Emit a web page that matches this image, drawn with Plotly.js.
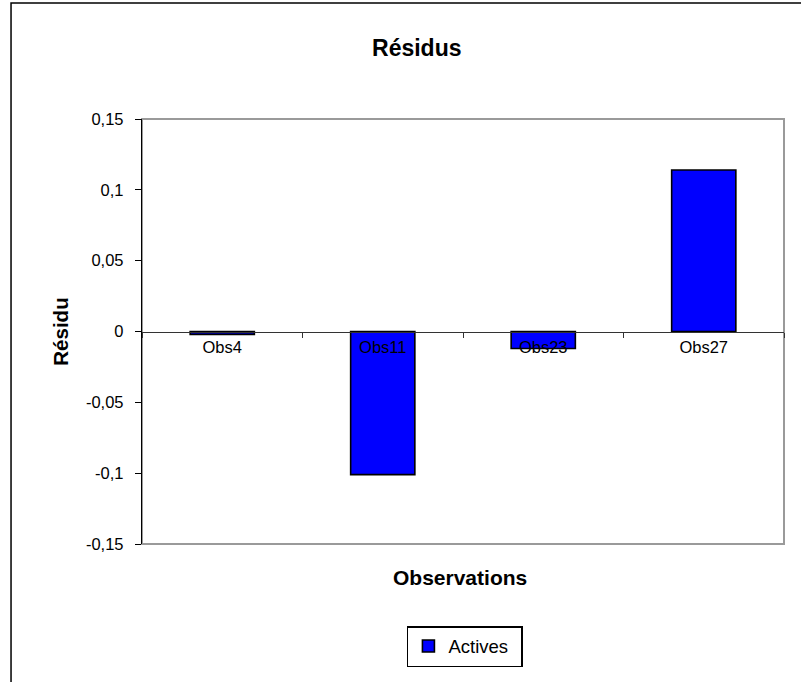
<!DOCTYPE html>
<html>
<head>
<meta charset="utf-8">
<script src="https://cdn.plot.ly/plotly-3.0.1.min.js"></script>
<style>html,body{margin:0;padding:0;background:#fff;}#chart{width:801px;height:682px;}</style>
</head>
<body>
<div id="chart"></div>
<script>
const categories = ["Obs4", "Obs11", "Obs23", "Obs27"];
const residus = [-0.002, -0.101, -0.012, 0.114];
const seriesName = "Actives";
const yTickVals = [0.15, 0.1, 0.05, 0, -0.05, -0.1, -0.15];
const yTickText = ["0,15", "0,1", "0,05", "0", "-0,05", "-0,1", "-0,15"];
const boundaryTicks = [-0.5, 0.5, 1.5, 2.5, 3.5];

const FONT = "Liberation Sans, Arial, sans-serif";

const trace = {
  type: "bar",
  x: categories,
  y: residus,
  name: seriesName,
  marker: {color: "#0000FF", line: {color: "#000000", width: 1.6}},
  showlegend: true,
  hoverinfo: "x+y"
};

const layout = {
  width: 801,
  height: 682,
  margin: {l: 142, r: 17, t: 119, b: 138, pad: 0},
  paper_bgcolor: "#ffffff",
  plot_bgcolor: "#ffffff",
  separators: ", ",
  font: {family: FONT, color: "#000000", size: 16},
  title: {
    text: "<b>Résidus</b>",
    font: {family: FONT, size: 23, color: "#000"},
    xref: "paper", x: 0.428, xanchor: "center",
    yref: "container", y: 1 - 48/682, yanchor: "middle"
  },
  bargap: 0.6,
  showlegend: true,
  legend: {
    orientation: "h",
    x: 0.503, xanchor: "center",
    y: -0.193, yanchor: "top",
    bordercolor: "#000", borderwidth: 1.5,
    bgcolor: "#fff",
    entrywidth: 68,
    font: {family: FONT, size: 18.5, color: "#000"}
  },
  xaxis: {
    type: "category",
    categoryorder: "array",
    categoryarray: categories,
    range: [-0.5, 3.5],
    anchor: "free",
    position: 0.5,
    showline: true, linecolor: "#333", linewidth: 1.2,
    ticks: "outside", tickson: "boundaries", ticklen: 5, tickcolor: "#333", tickwidth: 1,
    showgrid: false, zeroline: false,
    tickfont: {family: FONT, size: 16.5, color: "#000"},
    fixedrange: true
  },
  xaxis2: {
    overlaying: "x",
    anchor: "free",
    position: 0.5,
    range: [-0.5, 3.5],
    tickvals: boundaryTicks,
    ticks: "inside", ticklen: 5, tickcolor: "#333", tickwidth: 1,
    showticklabels: false, showgrid: false, zeroline: false, showline: false
  },
  yaxis: {
    range: [-0.15, 0.15],
    tickvals: yTickVals,
    ticktext: yTickText,
    showline: true, linecolor: "#000", linewidth: 1.2,
    ticks: "outside", ticklen: 6, tickcolor: "#000", tickwidth: 1,
    ticklabelstandoff: 8,
    showgrid: false, zeroline: false,
    tickfont: {family: FONT, size: 16.5, color: "#000"},
    title: {text: "<b>Résidu</b>", font: {family: FONT, size: 20.5, color: "#000"}, standoff: 11}
  },
  shapes: [
    {type: "rect", xref: "paper", yref: "paper", x0: 0, x1: 1, y0: 0, y1: 1,
     line: {color: "#9a9a9a", width: 2}, layer: "below"},
    {type: "rect", xref: "paper", yref: "paper", x0: -0.204, x1: 1.3, y0: -0.5, y1: 1.273,
     line: {color: "#000", width: 1.5}, fillcolor: "rgba(0,0,0,0)", layer: "above"}
  ],
  annotations: [
    {text: "<b>Observations</b>", xref: "paper", yref: "paper",
     x: (460-142)/642, y: (544-577)/425, xanchor: "center", yanchor: "middle",
     showarrow: false, font: {family: FONT, size: 21, color: "#000"}}
  ]
};

Plotly.newPlot("chart", [trace], layout, {staticPlot: true, displayModeBar: false});
</script>
</body>
</html>
